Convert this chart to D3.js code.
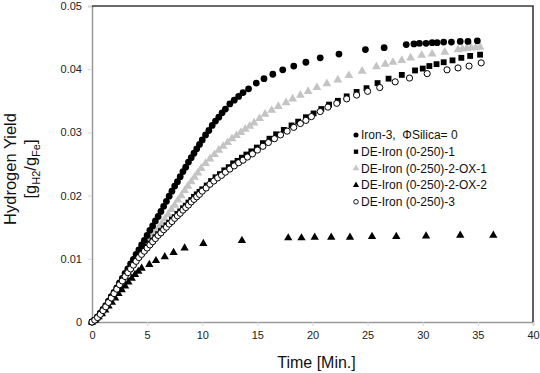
<!DOCTYPE html>
<html>
<head>
<meta charset="utf-8">
<script src="https://cdn.jsdelivr.net/npm/d3@7"></script>
<style>
    body { margin: 0; background: #fff; }
    svg text { font-family: "Liberation Sans", Arial, sans-serif; }
</style>
</head>
<body>
<svg id="chart" width="540" height="373"></svg>
<script>

// Iron-3, ΦSilica = 0  (filled circles)
const iron3Time = [0, 0.25, 0.5, 0.75, 1, 1.25, 1.5, 1.75, 2, 2.25, 2.5, 2.75, 3, 3.25, 3.5, 3.75, 4, 4.25, 4.5, 4.75,
    5, 5.25, 5.5, 5.75, 6, 6.25, 6.5, 6.75, 7, 7.25, 7.5, 7.75, 8, 8.25, 8.5, 8.75, 9, 9.25, 9.5, 9.75, 10,
    10.3, 10.6, 10.9, 11.2, 11.5, 11.8, 12.1, 12.5, 12.9, 13.3, 13.7, 14.2, 14.9, 15.6, 16.4, 17.3, 18.3, 19.4,
    20.7, 22.4, 24.8, 26.5, 28.5, 29.2, 29.7, 30.3, 30.85, 31.3, 31.9, 32.6, 33.4, 34.1, 34.95]
const iron3Yield = [0, 0.0003, 0.0008, 0.0014, 0.002, 0.0026, 0.0033, 0.004, 0.0047, 0.0054, 0.0062, 0.0069, 0.0077, 0.0084, 0.0092, 0.0099, 0.0107, 0.0114, 0.0122, 0.0129,
    0.0137, 0.0145, 0.0152, 0.016, 0.0167, 0.0175, 0.0183, 0.0191, 0.0199, 0.0207, 0.0215, 0.0222, 0.023, 0.0238, 0.0245, 0.0253, 0.026, 0.0267, 0.0274, 0.0281, 0.0288,
    0.0296, 0.0303, 0.0311, 0.0318, 0.0324, 0.0331, 0.0337, 0.0345, 0.0351, 0.0357, 0.0363, 0.0369, 0.0378, 0.0385, 0.0392, 0.0399, 0.0405, 0.0411,
    0.0418, 0.0424, 0.0431, 0.0434, 0.0439, 0.044, 0.0441, 0.0441, 0.0442, 0.0442, 0.0443, 0.0443, 0.0444, 0.0444, 0.0445]

// DE-Iron (0-250)-1  (filled squares)
const de1Time = [0, 0.25, 0.5, 0.75, 1, 1.25, 1.5, 1.75, 2, 2.25, 2.5, 2.75, 3, 3.25, 3.5, 3.75, 4, 4.25, 4.5, 4.75,
    5, 5.25, 5.5, 5.75, 6, 6.25, 6.5, 6.75, 7, 7.25, 7.5, 7.75, 8, 8.25, 8.5, 8.75, 9, 9.25, 9.5, 9.75, 10,
    10.4, 10.8, 11.2, 11.6, 12, 12.4, 12.8, 13.2, 13.6, 14, 14.45, 14.95, 15.5, 16.1, 16.7, 17.4, 18.1, 18.7, 19.4,
    20.1, 20.8, 21.5, 22.3, 23.1, 24, 24.9, 25.9, 26.9, 28.1, 29.3, 30, 30.6, 31.25, 31.9, 32.7, 33.5, 34.3, 35.2]
const de1Yield = [0, 0.0003, 0.0007, 0.0013, 0.0019, 0.0025, 0.0032, 0.0039, 0.0046, 0.0053, 0.006, 0.0067, 0.0073, 0.008, 0.0086, 0.0092, 0.0098, 0.0104, 0.0109, 0.0114,
    0.0119, 0.0124, 0.0129, 0.0134, 0.0139, 0.0144, 0.0148, 0.0153, 0.0157, 0.0162, 0.0166, 0.0171, 0.0175, 0.018, 0.0184, 0.0189, 0.0193, 0.0198, 0.0202, 0.0206, 0.021,
    0.0216, 0.0223, 0.0229, 0.0234, 0.024, 0.0245, 0.0251, 0.0255, 0.026, 0.0265, 0.027, 0.0276, 0.0283, 0.029, 0.0297, 0.0304, 0.0311, 0.0317, 0.0324,
    0.033, 0.0337, 0.0344, 0.035, 0.0357, 0.0364, 0.037, 0.0378, 0.0385, 0.0391, 0.0398, 0.0401, 0.0405, 0.0408, 0.0411, 0.0414, 0.0418, 0.0421, 0.0423]

// DE-Iron (0-250)-2-OX-1  (grey triangles)
const ox1Time = [0, 0.3, 0.6, 0.9, 1.2, 1.5, 1.8, 2.1, 2.4, 2.7, 3, 3.3, 3.6, 3.9, 4.2, 4.5, 4.8, 5.1, 5.4, 5.7,
    6, 6.3, 6.6, 6.9, 7.2, 7.5, 7.8, 8.1, 8.4, 8.7, 9, 9.3, 9.6, 9.9,
    10.3, 10.7, 11.1, 11.5, 11.9, 12.3, 12.7, 13.1, 13.5, 13.9, 14.3, 14.7, 15.2, 15.7, 16.3, 16.9, 17.6, 18.2, 18.9, 19.6,
    20.4, 21.3, 22.3, 23.3, 24.5, 25.8, 26.6, 27.3, 28.1, 28.9, 29.9, 30.85, 32, 33.2, 33.6, 34, 34.4, 34.8, 35.2]
const ox1Yield = [0, 0.0004, 0.001, 0.0017, 0.0024, 0.0032, 0.004, 0.0049, 0.0057, 0.0066, 0.0074, 0.0082, 0.009, 0.0098, 0.0105, 0.0112, 0.0119, 0.0126, 0.0133, 0.0141,
    0.0148, 0.0155, 0.0163, 0.017, 0.0178, 0.0185, 0.0193, 0.02, 0.0208, 0.0215, 0.0222, 0.0229, 0.0236, 0.0243,
    0.0251, 0.0258, 0.0265, 0.0272, 0.0278, 0.0284, 0.029, 0.0295, 0.03, 0.0305, 0.031, 0.0315, 0.0322, 0.0329, 0.0335, 0.0341, 0.0347, 0.0353, 0.0359, 0.0365,
    0.0371, 0.0377, 0.0383, 0.039, 0.0397, 0.0404, 0.0408, 0.0411, 0.0414, 0.0418, 0.0422, 0.0424, 0.0427, 0.0431, 0.0432, 0.0433, 0.0434, 0.0434, 0.0435]

// DE-Iron (0-250)-2-OX-2  (black triangles)
const ox2Time = [0, 0.3, 0.6, 0.9, 1.2, 1.5, 1.8, 2.1, 2.4, 2.7, 3, 3.3, 3.6, 3.9, 4.2, 4.5,
    5.2, 5.8, 6.6, 7.4, 8.4, 10.1, 13.6, 17.8, 19, 20.2, 21.7, 23.4, 25.4, 27.6, 30.3, 33.4, 36.4]
const ox2Yield = [0, 0.0003, 0.0008, 0.0013, 0.0019, 0.0025, 0.0031, 0.0038, 0.0045, 0.0051, 0.0057, 0.0063, 0.0069, 0.0075, 0.008, 0.0085,
    0.0091, 0.0097, 0.0103, 0.011, 0.0117, 0.0124, 0.0129, 0.0133, 0.0133, 0.0134, 0.0134, 0.0134, 0.0135, 0.0135, 0.0136, 0.0137, 0.0137]

// DE-Iron (0-250)-3  (open circles)
const de3Time = [0, 0.25, 0.5, 0.75, 1, 1.25, 1.5, 1.75, 2, 2.25, 2.5, 2.75, 3, 3.25, 3.5, 3.75, 4, 4.25, 4.5, 4.75,
    5, 5.25, 5.5, 5.75, 6, 6.25, 6.5, 6.75, 7, 7.25, 7.5, 7.75, 8, 8.25, 8.5, 8.75, 9, 9.25, 9.5, 9.75, 10,
    10.35, 10.7, 11.05, 11.4, 11.75, 12.1, 12.5, 12.9, 13.3, 13.7, 14.1, 14.55, 15, 15.5, 16, 16.55, 17.1, 17.7, 18.3, 18.9, 19.4,
    19.9, 20.7, 21.4, 22.2, 23.1, 24, 25, 26.1, 27.5, 28.8, 30.4, 32.2, 33.2, 34.2, 35.3]
const de3Yield = [0, 0.0003, 0.0007, 0.0012, 0.0018, 0.0024, 0.0031, 0.0038, 0.0045, 0.0052, 0.0059, 0.0065, 0.0072, 0.0078, 0.0084, 0.009, 0.0096, 0.0102, 0.0107, 0.0112,
    0.0117, 0.0122, 0.0127, 0.0132, 0.0137, 0.0141, 0.0146, 0.015, 0.0155, 0.0159, 0.0164, 0.0168, 0.0172, 0.0177, 0.0181, 0.0185, 0.019, 0.0194, 0.0198, 0.0202, 0.0207,
    0.0212, 0.0218, 0.0223, 0.0228, 0.0232, 0.0237, 0.0242, 0.0247, 0.0252, 0.0256, 0.0261, 0.0266, 0.0272, 0.0278, 0.0284, 0.029, 0.0296, 0.0302, 0.0308, 0.0314, 0.0319,
    0.0325, 0.0333, 0.034, 0.0346, 0.0353, 0.0359, 0.0365, 0.0371, 0.038, 0.0386, 0.0393, 0.0399, 0.0402, 0.0405, 0.041]

const xTicks = [0, 5, 10, 15, 20, 25, 30, 35, 40]
const yTicks = [0, 0.01, 0.02, 0.03, 0.04, 0.05]
const yTickLabels = ["0", "0.01", "0.02", "0.03", "0.04", "0.05"]

const legendNames = ["Iron-3,  \u03A6Silica= 0", "DE-Iron (0-250)-1", "DE-Iron (0-250)-2-OX-1", "DE-Iron (0-250)-2-OX-2", "DE-Iron (0-250)-3"]

// draw order: grey first, open circles last
const series = [
    {name: legendNames[2], time: ox1Time, yield: ox1Yield, shape: d3.symbolTriangle, size: 34, fill: "#c4c4c4", stroke: "none", order: 0},
    {name: legendNames[0], time: iron3Time, yield: iron3Yield, shape: d3.symbolCircle, size: 36, fill: "#000", stroke: "none", order: 1},
    {name: legendNames[1], time: de1Time, yield: de1Yield, shape: d3.symbolSquare, size: 34, fill: "#000", stroke: "none", order: 2},
    {name: legendNames[3], time: ox2Time, yield: ox2Yield, shape: d3.symbolTriangle, size: 30, fill: "#000", stroke: "none", order: 3},
    {name: legendNames[4], time: de3Time, yield: de3Yield, shape: d3.symbolCircle, size: 30, fill: "#fff", stroke: "#000", order: 4},
]

const width = 540, height = 373
const margin = {top: 6, right: 7, bottom: 51, left: 92}

const svg = d3.select("#chart")

const x = d3.scaleLinear().domain([0, 40]).range([margin.left, width - margin.right])
const y = d3.scaleLinear().domain([0, 0.05]).range([height - margin.bottom, margin.top])

// axes
svg.append("g")
   .attr("transform", "translate(0," + y(0) + ")")
   .call(d3.axisBottom(x).tickValues(xTicks).tickSize(4).tickPadding(5).tickFormat(d3.format("d")))
   .call(g => g.select(".domain").attr("stroke", "#9a9a9a").attr("stroke-width", 1.5))
   .call(g => g.selectAll(".tick line").attr("stroke", "#d6d6d6"))
   .call(g => g.selectAll(".tick text").attr("font-size", 11).attr("fill", "#222"))

svg.append("g")
   .attr("transform", "translate(" + x(0) + ",0)")
   .call(d3.axisLeft(y).tickValues(yTicks).tickSize(4).tickPadding(6).tickFormat((d, i) => yTickLabels[i]))
   .call(g => g.select(".domain").attr("stroke", "#9a9a9a").attr("stroke-width", 1.5))
   .call(g => g.selectAll(".tick line").attr("stroke", "#d6d6d6"))
   .call(g => g.selectAll(".tick text").attr("font-size", 11).attr("fill", "#222"))

// dark frame on top and right
svg.append("path")
   .attr("d", "M" + x(0) + "," + y(0.05) + "H" + x(40) + "V" + y(0))
   .attr("fill", "none")
   .attr("stroke", "#3a3a3a")
   .attr("stroke-width", 1.6)

// markers
series.forEach(s => {
    svg.append("g")
       .selectAll("path")
       .data(s.time.map((t, i) => [t, s.yield[i]]))
       .enter()
       .append("path")
       .attr("transform", d => "translate(" + x(d[0]) + "," + y(d[1]) + ")")
       .attr("d", d3.symbol().type(s.shape).size(s.size))
       .attr("fill", s.fill)
       .attr("stroke", s.stroke)
       .attr("stroke-width", 1)
})

// legend
const legend = svg.append("g").attr("transform", "translate(356,135)")
legendNames.forEach((name, i) => {
    let s = series.find(d => d.name === name)
    let row = legend.append("g").attr("transform", "translate(0," + i * 16.7 + ")")
    row.append("path")
       .attr("d", d3.symbol().type(s.shape).size(s.size * 0.55))
       .attr("fill", s.fill)
       .attr("stroke", s.stroke)
       .attr("stroke-width", 0.9)
    row.append("text")
       .attr("x", 5)
       .attr("y", 4.3)
       .attr("font-size", 12)
       .attr("fill", "#111")
       .style("white-space", "pre")
       .text(name)
})

// axis titles
svg.append("text")
   .attr("x", (x(0) + x(40)) / 2 + 4)
   .attr("y", 368)
   .attr("text-anchor", "middle")
   .attr("font-size", 16)
   .attr("fill", "#111")
   .text("Time [Min.]")

const yTitle = svg.append("g").attr("transform", "translate(0,169) rotate(-90)")
yTitle.append("text")
   .attr("x", 0)
   .attr("y", 16)
   .attr("text-anchor", "middle")
   .attr("font-size", 16.5)
   .attr("fill", "#111")
   .text("Hydrogen Yield")

let unit = yTitle.append("text")
   .attr("x", 0)
   .attr("y", 36)
   .attr("text-anchor", "middle")
   .attr("font-size", 16.5)
   .attr("fill", "#111")
unit.append("tspan").text("[g")
unit.append("tspan").attr("font-size", 11).attr("dy", 4).text("H2")
unit.append("tspan").attr("dy", -4).text("/g")
unit.append("tspan").attr("font-size", 11).attr("dy", 4).text("Fe")
unit.append("tspan").attr("dy", -4).text("]")

</script>
</body>
</html>
